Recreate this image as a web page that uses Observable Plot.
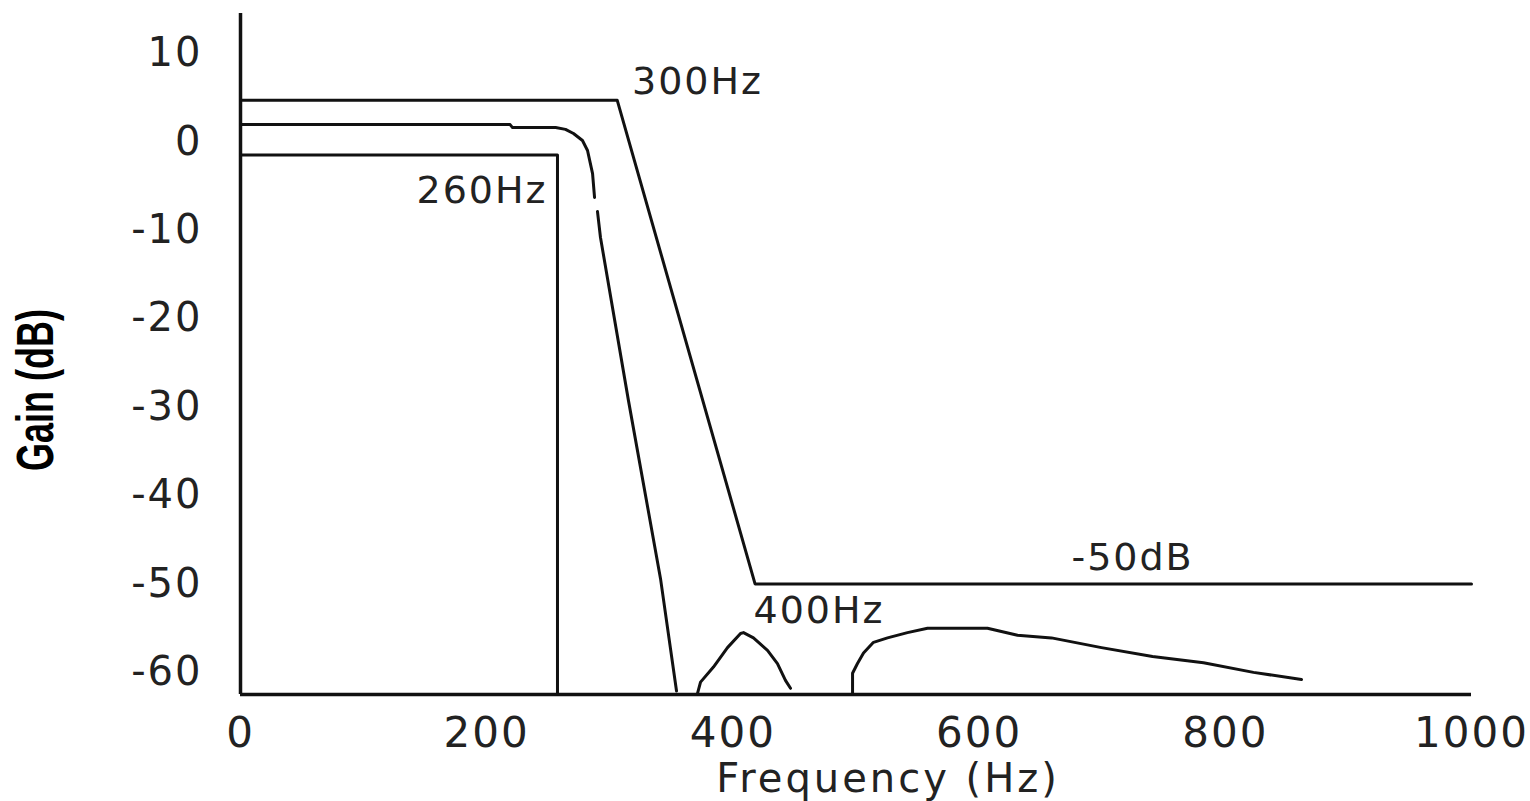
<!DOCTYPE html>
<html>
<head>
<meta charset="utf-8">
<script src="https://cdn.jsdelivr.net/npm/d3@7"></script>
<script src="https://cdn.jsdelivr.net/npm/@observablehq/plot@0.6"></script>
<style>
  html, body { margin: 0; padding: 0; background: #fff; }
  #wrap { position: relative; width: 1530px; height: 801px; overflow: hidden; }
  .title { position: absolute; white-space: nowrap; line-height: 1; color: #222; }
  #ylab { left: 36px; top: 390px; font-family: "Liberation Sans", Arial, sans-serif; font-weight: bold; font-size: 36px; color: #000;
          transform: translate(-50%, -50%) rotate(-90deg) scale(1, 1.45); }
  #xlab { left: 888px; top: 778px; font-family: "DejaVu Sans", sans-serif; font-size: 40px; letter-spacing: 3px;
          transform: translate(-50%, -50%); }
</style>
</head>
<body>
<div id="wrap">
  <div id="chart"></div>
  <div class="title" id="ylab">Gain (dB)</div>
  <div class="title" id="xlab">Frequency (Hz)</div>
</div>
<script>
// ---- data ----
const xTicks = [0, 200, 400, 600, 800, 1000];
const yTicks = [-60, -50, -40, -30, -20, -10, 0, 10];
const xDomain = [0, 1000];
const yDomain = [-62.5, 14.5];
const floorGain = -62.5;

// specification mask (300 Hz passband edge, -50 dB stopband)
const maskFreq = [0, 306, 418, 1000];
const maskGain = [4.7, 4.7, -50, -50];

// ideal brick-wall at 260 Hz
const idealFreq = [0, 257.5, 257.5];
const idealGain = [-1.5, -1.5, -62.5];

// actual filter response (NaN marks breaks in the trace)
const respFreq = [0, 219, 221, 256, 264, 270.5, 277.8, 281.9, 286, 287.6, 288.5,
                  290, 292.4, 315.2, 341.2, 354.2, 355,
                  371.2, 373.7, 384.2, 395.6, 406.2, 408.6, 416.7, 428.1, 436.2, 442.7, 446.8, 447,
                  497.2, 497.2, 501.2, 506.1, 514.2, 525.6, 541.8, 558.1, 606.8, 631.2,
                  658.8, 699.4, 740.9, 782.3, 822.9, 861.9];
const respGain = [1.94, 1.94, 1.6, 1.6, 1.4, 0.93, 0.14, -0.99, -3.6, -6.3, NaN,
                  -7.9, -10.8, -29.3, -49.4, -62.1, NaN,
                  -62.4, -61.1, -59.4, -57.2, -55.6, -55.5, -56.1, -57.5, -59.0, -60.9, -61.8, NaN,
                  -62.4, -60.1, -59.0, -57.8, -56.6, -56.1, -55.5, -55.0, -55.0, -55.8,
                  -56.1, -57.2, -58.2, -58.9, -60.0, -60.8];

// annotations
const noteText = ["300Hz", "260Hz", "400Hz", "-50dB"];
const noteFreq = [318, 249.4, 416.7, 675];
const noteGain = [6.8, -5.5, -53.0, -47.1];
const noteAnchor = ["start", "end", "start", "start"];

// ---- build tables ----
const zip = (xs, ys) => xs.map((x, i) => ({x, y: ys[i]}));
const mask = zip(maskFreq, maskGain);
const ideal = zip(idealFreq, idealGain);
const resp = zip(respFreq, respGain);
const notes = noteText.map((t, i) => ({t, x: noteFreq[i], y: noteGain[i], a: noteAnchor[i]}));

const ink = "#111";
const lw = 3;

const chart = Plot.plot({
  width: 1530,
  height: 801,
  marginLeft: 240,
  marginRight: 59,
  marginTop: 13,
  marginBottom: 107,
  style: {fontFamily: "DejaVu Sans, sans-serif", color: "#222", background: "#fff"},
  x: {domain: xDomain, label: null},
  y: {domain: yDomain, label: null},
  marks: [
    Plot.axisY({ticks: yTicks, tickFormat: d => String(d), tickSize: 0, tickPadding: 38, fontSize: 40, label: null}),
    Plot.axisX({ticks: xTicks, tickFormat: d => String(d), tickSize: 0, tickPadding: 23, fontSize: 42, label: null}),
    Plot.ruleX([xDomain[0]], {stroke: ink, strokeWidth: 3.5}),
    Plot.ruleY([floorGain], {stroke: ink, strokeWidth: 3.5}),
    Plot.line(mask, {x: "x", y: "y", stroke: ink, strokeWidth: lw}),
    Plot.line(ideal, {x: "x", y: "y", stroke: ink, strokeWidth: lw}),
    Plot.line(resp, {x: "x", y: "y", stroke: ink, strokeWidth: lw}),
    ...["start", "end"].map(anchor => Plot.text(notes.filter(d => d.a === anchor), {
      x: "x", y: "y", text: "t", textAnchor: anchor, fontSize: 38, fill: "#222"
    }))
  ]
});
d3.select(chart).selectAll("text").attr("letter-spacing", "2");
document.getElementById("chart").appendChild(chart);
</script>
</body>
</html>
